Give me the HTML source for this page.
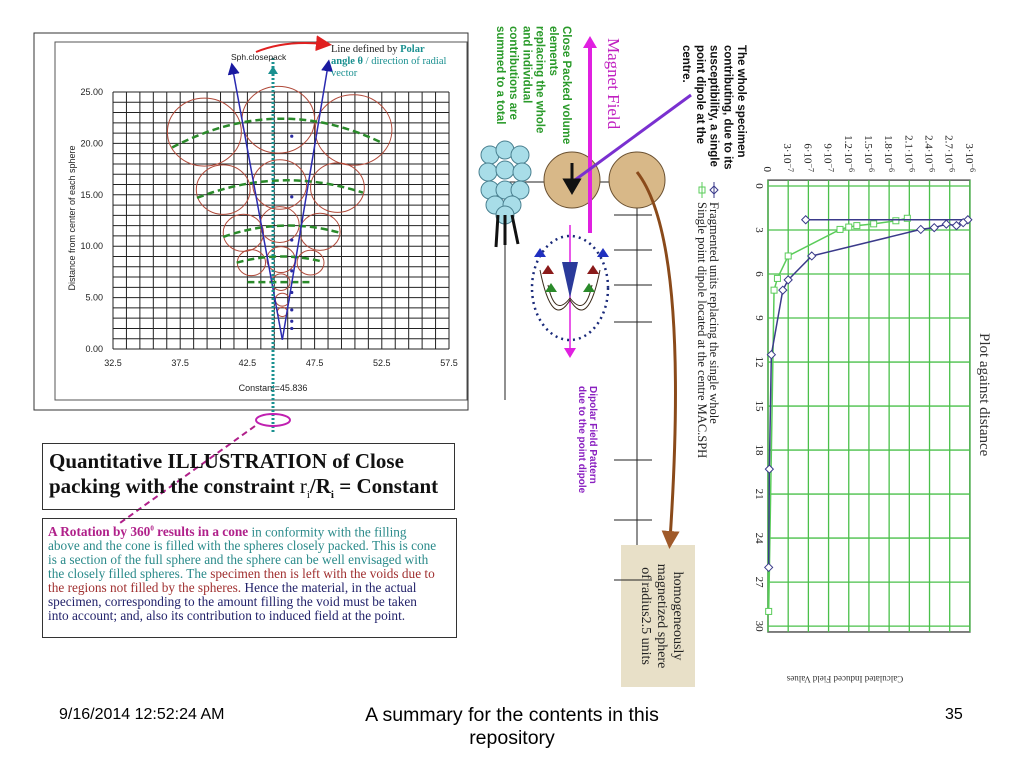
<!DOCTYPE html>
<html><head><meta charset="utf-8">
<style>
html,body{margin:0;padding:0;background:#fff;}
body{width:1024px;height:768px;overflow:hidden;position:relative;font-family:"Liberation Sans",sans-serif;}
.ft{position:absolute;font-size:16px;color:#000;}
</style></head>
<body>
<svg id="s" width="1024" height="768" viewBox="0 0 1024 768" style="position:absolute;left:0;top:0">
<defs>
<marker id="ab" markerWidth="8" markerHeight="8" refX="4" refY="4" orient="auto"><path d="M0,0 L8,4 L0,8 z" fill="#1a1aa0"/></marker>
<marker id="ar" markerWidth="8" markerHeight="8" refX="4" refY="4" orient="auto"><path d="M0,0 L8,4 L0,8 z" fill="#e02020"/></marker>
<marker id="abr" markerWidth="6" markerHeight="6" refX="3" refY="3" orient="auto"><path d="M0,0 L6,3 L0,6 z" fill="#a05a2a"/></marker>
</defs>
<rect x="34" y="33" width="434" height="377" fill="#fff" stroke="#333" stroke-width="1"/>
<rect x="55" y="42" width="412" height="358" fill="none" stroke="#555" stroke-width="1"/>
<g id="lc"></g>
<g id="mid"></g>
<g id="rc"></g>
</svg>
<div class="ft" style="left:59px;top:706px">9/16/2014 12:52:24 AM</div>
<div class="ft" style="left:342px;top:704px;width:340px;text-align:center;line-height:23px;font-size:19.5px">A summary for the contents in this<br>repository</div>
<div class="ft" style="left:945px;top:706px">35</div>
<div style="position:absolute;left:42px;top:443px;width:413px;height:67px;border:1px solid #333;box-sizing:border-box;font-family:'Liberation Serif',serif;font-weight:bold;font-size:21px;line-height:25px;padding:5px 0 0 6px;color:#111;white-space:nowrap">Quantitative ILLUSTRATION of Close<br>packing with the constraint <span style="font-weight:normal">r<sub style="font-size:11px">i</sub></span>/R<sub style="font-size:11px">i</sub> = Constant</div>
<div style="position:absolute;left:42px;top:518px;width:415px;height:120px;border:1px solid #333;box-sizing:border-box;font-family:'Liberation Serif',serif;font-size:13.3px;line-height:14px;padding:3px 0 0 5px;color:#2a8a8a;white-space:nowrap;overflow:hidden"><b style="color:#b0208a">A Rotation by 360<sup style="font-size:7px">0</sup> results in a cone</b> in conformity with the filling<br>above and the cone is filled with the spheres closely packed. This is cone<br>is a section of the full sphere and the sphere can be well envisaged with<br>the closely filled spheres. The <span style="color:#a03030">specimen then is left with the voids due to<br>the regions not filled by the spheres.</span> <span style="color:#22226a">Hence the material, in the actual<br>specimen, corresponding to the amount filling the void must be taken<br>into account; and, also its contribution to induced field at the point.</span></div>
<script>
const NS='http://www.w3.org/2000/svg';
function mk(tag,attrs,parent){const e=document.createElementNS(NS,tag);for(const k in attrs)e.setAttribute(k,attrs[k]);parent.appendChild(e);return e;}
function tx(str,attrs,parent){const e=mk('text',attrs,parent);e.textContent=str;return e;}

/* ---------- LEFT CHART DATA ---------- */
const xTicks=[32.5,37.5,42.5,47.5,52.5,57.5];
const yTicks=[0,5,10,15,20,25];
const circX=[39.3,44.8,50.4,40.7,44.9,49.2,42.2,44.9,47.9,42.8,45.0,47.2,45.0,45.1,45.1];
const circY=[21.1,22.3,21.3,15.5,16.0,15.7,11.3,12.1,11.4,8.4,8.7,8.4,6.5,4.8,3.6];
const circR=[2.75,2.7,2.85,2.0,2.0,2.0,1.5,1.45,1.5,1.05,1.05,1.0,0.67,0.52,0.37];
const dotX=[45.8,45.8,45.8,45.8,45.8,45.8,45.8,45.8];
const dotY=[20.7,14.8,10.6,7.6,5.5,3.8,2.7,2.0];
const arcX1=[36.9,38.75,40.7,41.7,42.5], arcY1=[19.6,14.7,10.9,8.4,6.5];
const arcX2=[52.6,51.1,49.4,48.1,47.4], arcY2=[20.0,15.2,11.3,8.5,6.5];
const arcPk=[22.4,16.4,12.0,9.0,6.5];
const vApex=[45.1,0.9], vLeft=[41.4,27.3], vRight=[48.5,27.6];

const LX=x=>113+(x-32.5)*13.44, LY=y=>349-y*10.28;
const lc=document.getElementById('lc');
for(let x=32.5;x<=57.51;x+=1){const l=mk('line',{x1:LX(x),x2:LX(x),y1:LY(25),y2:LY(0),stroke:'#222','stroke-width':1},lc);

}
for(let y=0;y<=25;y+=1){const l=mk('line',{x1:LX(32.5),x2:LX(57.5),y1:LY(y),y2:LY(y),stroke:'#222','stroke-width':1},lc);

}
xTicks.forEach(v=>{const t=tx(v.toFixed(1),{x:LX(v),y:366,'font-size':9,'text-anchor':'middle',fill:'#222'},lc);

});
yTicks.forEach(v=>{const t=tx(v.toFixed(2),{x:103,y:LY(v)+3,'font-size':9,'text-anchor':'end',fill:'#222'},lc);

});
let t=tx('Distance from center of each sphere',{x:0,y:0,'font-size':9,'text-anchor':'middle',fill:'#222',transform:'translate(75,218) rotate(-90)'},lc);


t=tx('Constant=45.836',{x:273,y:391,'font-size':9,'text-anchor':'middle',fill:'#222'},lc);


circX.forEach((cx,i)=>{const r=circR[i]*13.44;const c=mk('ellipse',{cx:LX(cx),cy:LY(circY[i]),rx:r,ry:r*0.92,fill:'none',stroke:'#b04a3a','stroke-width':1},lc);

});
arcX1.forEach((x1,i)=>{const x2=arcX2[i];const cy=2*arcPk[i]-(arcY1[i]+arcY2[i])/2;
const p=mk('path',{d:`M${LX(x1)},${LY(arcY1[i])} Q${LX((x1+x2)/2)},${LY(cy)} ${LX(x2)},${LY(arcY2[i])}`,fill:'none',stroke:'#2a8a2a','stroke-width':2.5,'stroke-dasharray':'7,4'},lc);

});
dotX.forEach((x,i)=>{const c=mk('circle',{cx:LX(x),cy:LY(dotY[i]),r:1.6,fill:'#2a2aa0'},lc);

});
[vLeft,vRight].forEach(p=>{const l=mk('line',{x1:LX(vApex[0]),y1:LY(vApex[1]),x2:LX(p[0]),y2:LY(p[1]),stroke:'#2a2ab0','stroke-width':1.5,'marker-end':'url(#ab)'},lc);

});
let l=mk('line',{x1:273,y1:58,x2:273,y2:432,stroke:'#1a9090','stroke-width':3,'stroke-dasharray':'2,2'},lc);


l=mk('path',{d:'M273,66 l-5,8 h10 z',fill:'#1a9090'},lc);


t=tx('Sph.closepack',{x:231,y:60,'font-size':8.5,fill:'#222'},lc);


l=mk('path',{d:'M256,52 Q285,40 324,44',fill:'none',stroke:'#e02020','stroke-width':2,'marker-end':'url(#ar)'},lc);


const ann=mk('text',{x:331,y:52,'font-size':10.5,'font-family':'Liberation Serif,serif',fill:'#222'},lc);


ann.innerHTML='<tspan>Line defined by </tspan><tspan fill="#1a9090" font-weight="bold">Polar</tspan><tspan x="331" dy="12" fill="#1a9090" font-weight="bold">angle θ</tspan><tspan fill="#1a9090"> / direction of radial</tspan><tspan x="331" dy="12" fill="#1a9090">vector</tspan>';
l=mk('ellipse',{cx:273,cy:420,rx:17,ry:6,fill:'none',stroke:'#c020b0','stroke-width':2},lc);


l=mk('line',{x1:255,y1:426,x2:120,y2:523,stroke:'#b0208a','stroke-width':2,'stroke-dasharray':'6,4'},lc);



/* ---------- MIDDLE DIAGRAM ---------- */
const mid=document.getElementById('mid');
function rtext(lines,x0,y0,dx,attrs,name){lines.forEach((s,i)=>{const e=tx(s,Object.assign({x:0,y:0,transform:`translate(${x0-i*dx},${y0}) rotate(90)`},attrs),mid);

});}
rtext(['The whole specimen','contributing, due to its','susceptibility, a single','point dipole at the','centre.'],738,45,13.7,{'font-size':11.5,'font-weight':'bold',fill:'#111'},'specimen-note');
rtext(['Close Packed volume','elements','replacing the whole','and individual','contributions are','summed to a total'],563,26,13.2,{'font-size':11.5,'font-weight':'bold',fill:'#2a9a2a'},'close-packed-note');
rtext(['Magnet Field'],608,38,0,{'font-size':17,'font-family':'Liberation Serif,serif',fill:'#c020c0'},'magnet-field-label');
rtext(['Dipolar Field Pattern','due to the point dipole'],590,386,11,{'font-size':10,'font-weight':'bold',fill:'#8a20c0'},'dipolar-field-label');
l=mk('rect',{x:621,y:545,width:74,height:142,fill:'#e8e0c8'},mid);


['homogeneously','magnetized sphere','of radius2.5 units'].forEach((s,i)=>{const e=tx(s,{x:0,y:0,'text-anchor':'middle','font-size':14,'font-family':'Liberation Serif,serif',fill:'#222',transform:`translate(${674-i*16},616) rotate(90)`},mid);

});
[['M505,182 H637'],['M637,182 V545'],['M505,182 V400']].forEach(d=>{const e=mk('path',{d:d[0],stroke:'#222','stroke-width':1,fill:'none'},mid);

});
[215,250,285,322,460,520,580].forEach(y=>{const e=mk('line',{x1:614,x2:652,y1:y,y2:y,stroke:'#222','stroke-width':1},mid);

});
[[572,180],[637,180]].forEach(c=>{const e=mk('circle',{cx:c[0],cy:c[1],r:28,fill:'#d8b888',stroke:'#6a5030','stroke-width':1},mid);

});
[[490,155],[505,150],[520,155],[488,172],[505,170],[522,172],[490,190],[505,190],[520,190],[495,205],[512,205],[505,215]].forEach(c=>{const e=mk('circle',{cx:c[0],cy:c[1],r:9,fill:'#a8dde8',stroke:'#4a8090','stroke-width':1},mid);

});
['M498,215 L496,247','M505,215 L505,245','M512,215 L518,244'].forEach(d=>{const e=mk('path',{d:d,stroke:'#111','stroke-width':3},mid);

});
l=mk('line',{x1:590,y1:233,x2:590,y2:46,stroke:'#e020e0','stroke-width':4},mid);


l=mk('path',{d:'M590,36 l-7,12 h14 z',fill:'#e020e0'},mid);


l=mk('line',{x1:570,y1:225,x2:570,y2:352,stroke:'#e020e0','stroke-width':1.5},mid);


l=mk('path',{d:'M570,358 l-6,-10 h12 z',fill:'#e020e0'},mid);


l=mk('line',{x1:691,y1:95,x2:575,y2:180,stroke:'#7a30d0','stroke-width':3},mid);


l=mk('path',{d:'M572,163 V188 M565,180 L572,192 L579,180 Z',stroke:'#111','stroke-width':3,fill:'#111'},mid);


l=mk('ellipse',{cx:570,cy:288,rx:38,ry:52,fill:'none',stroke:'#1a2a7a','stroke-width':2.5,'stroke-dasharray':'2,4'},mid);


l=mk('path',{d:'M562,262 L578,262 L570,298 Z',fill:'#2a3a9a'},mid);


['M548,285 Q555,318 570,298 Q585,318 592,285','M540,270 Q552,330 570,300 Q588,330 600,270'].forEach(d=>{const e=mk('path',{d:d,fill:'none',stroke:'#3a2a1a','stroke-width':1},mid);

});
[[540,248,'#2030c0'],[603,248,'#2030c0'],[548,265,'#8a1a1a'],[593,265,'#8a1a1a'],[551,283,'#2a8a2a'],[589,283,'#2a8a2a']].forEach(a=>{const e=mk('path',{d:`M${a[0]},${a[1]} l-6,9 h12 z`,fill:a[2]},mid);

});
l=mk('path',{d:'M637,172 Q690,240 670,540',fill:'none',stroke:'#8a4a1a','stroke-width':3,'marker-end':'url(#abr)'},mid);



/* ---------- RIGHT CHART DATA (rotated) ---------- */
const distTicks=[0,3,6,9,12,15,18,21,24,27,30];
const valTicks=[0,0.3,0.6,0.9,1.2,1.5,1.8,2.1,2.4,2.7,3.0];
const valTickLabels=['0','3·10','6·10','9·10','1.2·10','1.5·10','1.8·10','2.1·10','2.4·10','2.7·10','3·10'];
const valTickExp=['','−7','−7','−7','−6','−6','−6','−6','−6','−6','−6'];
const fragDist=[2.3,2.3,2.5,2.7,2.6,2.84,2.96,4.77,6.4,7.1,11.5,19.3,26];
const fragVal=[0.56,2.97,2.9,2.8,2.65,2.47,2.27,0.65,0.3,0.22,0.05,0.02,0.01];
const dipDist=[2.2,2.37,2.58,2.7,2.8,2.96,4.77,6.3,7.1,29];
const dipVal=[2.07,1.9,1.57,1.32,1.2,1.07,0.3,0.14,0.09,0.01];

const rc=document.getElementById('rc');
const RX=v=>768+v*67.3, RY=d=>186+d*14.67;
l=mk('rect',{x:RX(0),y:RY(-0.4),width:RX(3)-RX(0),height:RY(30.4)-RY(-0.4),fill:'#fff',stroke:'#555','stroke-width':1.5},rc);


distTicks.forEach(d=>{const g=mk('line',{x1:RX(0),x2:RX(3),y1:RY(d),y2:RY(d),stroke:'#4ac04a','stroke-width':1.3},rc);


const e=tx(String(d),{x:0,y:0,'text-anchor':'middle','font-size':11,'font-family':'Liberation Serif,serif',fill:'#222',transform:`translate(756,${RY(d)}) rotate(90)`},rc);

});
valTicks.forEach((v,i)=>{const g=mk('line',{x1:RX(v),x2:RX(v),y1:RY(-0.4),y2:RY(30.4),stroke:'#4ac04a','stroke-width':1.3},rc);


const e=mk('text',{x:0,y:0,'text-anchor':'end','font-size':11,'font-family':'Liberation Serif,serif',fill:'#222',transform:`translate(${RX(v)-4},172) rotate(90)`},rc);


e.innerHTML=valTickLabels[i]+(valTickExp[i]?`<tspan dy="-4" font-size="8">${valTickExp[i]}</tspan>`:'');});
function series(ds,vs,color,shape,name){const p=mk('polyline',{points:ds.map((d,i)=>RX(vs[i])+','+RY(d)).join(' '),fill:'none',stroke:color,'stroke-width':1.5},rc);


ds.forEach((d,i)=>{const x=RX(vs[i]),y=RY(d);const m=shape==='d'?mk('path',{d:`M${x-4},${y} L${x},${y-4} L${x+4},${y} L${x},${y+4} Z`,fill:'#fff',stroke:color,'stroke-width':1},rc):mk('rect',{x:x-3,y:y-3,width:6,height:6,fill:'#fff',stroke:color,'stroke-width':1},rc);

});}
series(dipDist,dipVal,'#5acc5a','s','dipole-series');
series(fragDist,fragVal,'#3a3a8a','d','fragmented-series');
t=tx('Plot against distance',{x:0,y:0,'font-size':15,'font-family':'Liberation Serif,serif',fill:'#333',transform:'translate(980,333) rotate(90)'},rc);


t=tx('Fragmented units replacing the single whole',{x:0,y:0,'font-size':12.5,'font-family':'Liberation Serif,serif',fill:'#222',transform:'translate(710,202) rotate(90)'},rc);


t=tx('Single point dipole located at the centre MAC.SPH',{x:0,y:0,'font-size':12.5,'font-family':'Liberation Serif,serif',fill:'#222',transform:'translate(698,202) rotate(90)'},rc);


l=mk('path',{d:'M714,182 V198 M710,190 L714,186 L718,190 L714,194 Z',stroke:'#3a3a8a',fill:'#fff'},rc);


l=mk('path',{d:'M702,182 V198 M699,187 h6 v6 h-6 z',stroke:'#5acc5a',fill:'#fff'},rc);


t=tx('Calculated Induced Field Values',{x:0,y:0,'text-anchor':'middle','font-size':9,'font-family':'Liberation Serif,serif',fill:'#333',transform:'translate(845,676) rotate(180)'},rc);


</script>
</body></html>
